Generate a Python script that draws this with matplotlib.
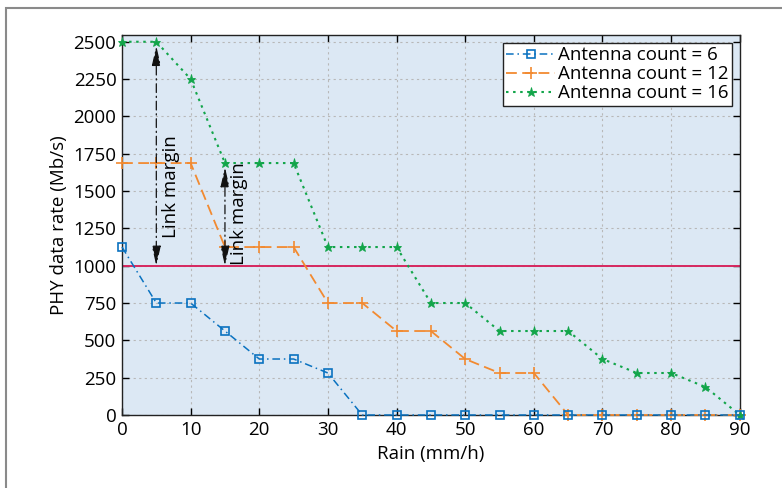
import matplotlib
matplotlib.use("Agg")
import matplotlib.pyplot as plt
from matplotlib.patches import Rectangle

plt.rcParams['font.family'] = ['Open Sans', 'DejaVu Sans']

rain = [0, 5, 10, 15, 20, 25, 30, 35, 40, 45, 50, 55, 60, 65, 70, 75, 80, 85, 90]
rate_6 = [1125, 750, 750, 562.5, 375, 375, 281.25, 0, 0, 0, 0, 0, 0, 0, 0, 0, 0, 0, 0]
rate_12 = [1687.5, 1687.5, 1687.5, 1125, 1125, 1125, 750, 750, 562.5, 562.5, 375, 281.25, 281.25,
           0, 0, 0, 0, 0, 0]
rate_16 = [2500, 2500, 2250, 1687.5, 1687.5, 1687.5, 1125, 1125, 1125, 750, 750, 562.5, 562.5,
           562.5, 375, 281.25, 281.25, 187.5, 0]
threshold = 1000
labels = ['Antenna count = 6', 'Antenna count = 12', 'Antenna count = 16']
xticks = list(range(0, 91, 10))
yticks = list(range(0, 2501, 250))
margin1 = (5, 2500, 1000)
margin2 = (15, 1687.5, 1000)

FS = 13.5

fig = plt.figure(figsize=(7.82, 4.88), dpi=100)
ax = fig.add_axes([0.156, 0.1496, 0.790, 0.7786])
ax.set_facecolor('#dce8f4')

blue = '#0a72c0'
orange = '#f28a30'
green = '#12a54a'

ax.plot(rain, rate_6, color=blue, ls=(0, (5, 2.5, 1, 2.5)), lw=1.1, marker='s', ms=5.5, mfc='none',
        mec=blue, mew=1.2, label=labels[0], zorder=4, clip_on=False)
ax.plot(rain, rate_12, color=orange, ls=(0, (6, 3)), lw=1.3, marker='+', ms=8,
        mew=1.2, label=labels[1], zorder=3, clip_on=False)
ax.plot(rain, rate_16, color=green, ls=(0, (1.2, 2.2)), lw=1.5, marker='*', ms=6.5,
        mew=0.6, label=labels[2], zorder=3, clip_on=False)
ax.axhline(threshold, color='#d6275f', lw=1.4, zorder=2)

for (x, ytop, ybot) in [margin1, margin2]:
    ax.annotate('', xy=(x, ybot), xytext=(x, ytop),
                arrowprops=dict(arrowstyle='<|-|>,head_length=0.75,head_width=0.17',
                                color='#111111', lw=0.9, ls=(0, (7, 3, 1, 3)),
                                mutation_scale=16, shrinkA=3, shrinkB=0), zorder=5)

ax.text(7.1, 1527, 'Link margin', rotation=90, ha='center', va='center', fontsize=FS)
ax.text(17.1, 1347, 'Link margin', rotation=90, ha='center', va='center', fontsize=FS)

ax.set_xlim(0, 90)
ax.set_ylim(0, 2545)
ax.set_xticks(xticks)
ax.set_yticks(yticks)
ax.tick_params(direction='in', top=True, right=True, labelsize=FS, length=5, width=1,
               pad=4)
ax.grid(True, ls=(0, (2, 3)), color='#b8b8b8', lw=0.8)
ax.set_axisbelow(True)
for s in ax.spines.values():
    s.set_linewidth(1.0)
    s.set_color('#222222')

ax.set_xlabel('Rain (mm/h)', fontsize=FS, labelpad=5)
ax.set_ylabel('PHY data rate (Mb/s)', fontsize=FS, labelpad=4)

leg = ax.legend(loc='upper right', fontsize=FS, frameon=True, fancybox=False,
                edgecolor='#222222', framealpha=1, handlelength=2.6, handletextpad=0.15,
                borderpad=0.2, labelspacing=0.05, borderaxespad=0.4)
leg.get_frame().set_linewidth(1.0)

fig.patches.append(Rectangle((6 / 782, -0.1), 1.1, 1.1 - 8 / 488,
                             transform=fig.transFigure, fill=False,
                             edgecolor='#8a8a8a', lw=1.5))

fig.savefig('out.png', dpi=100)
